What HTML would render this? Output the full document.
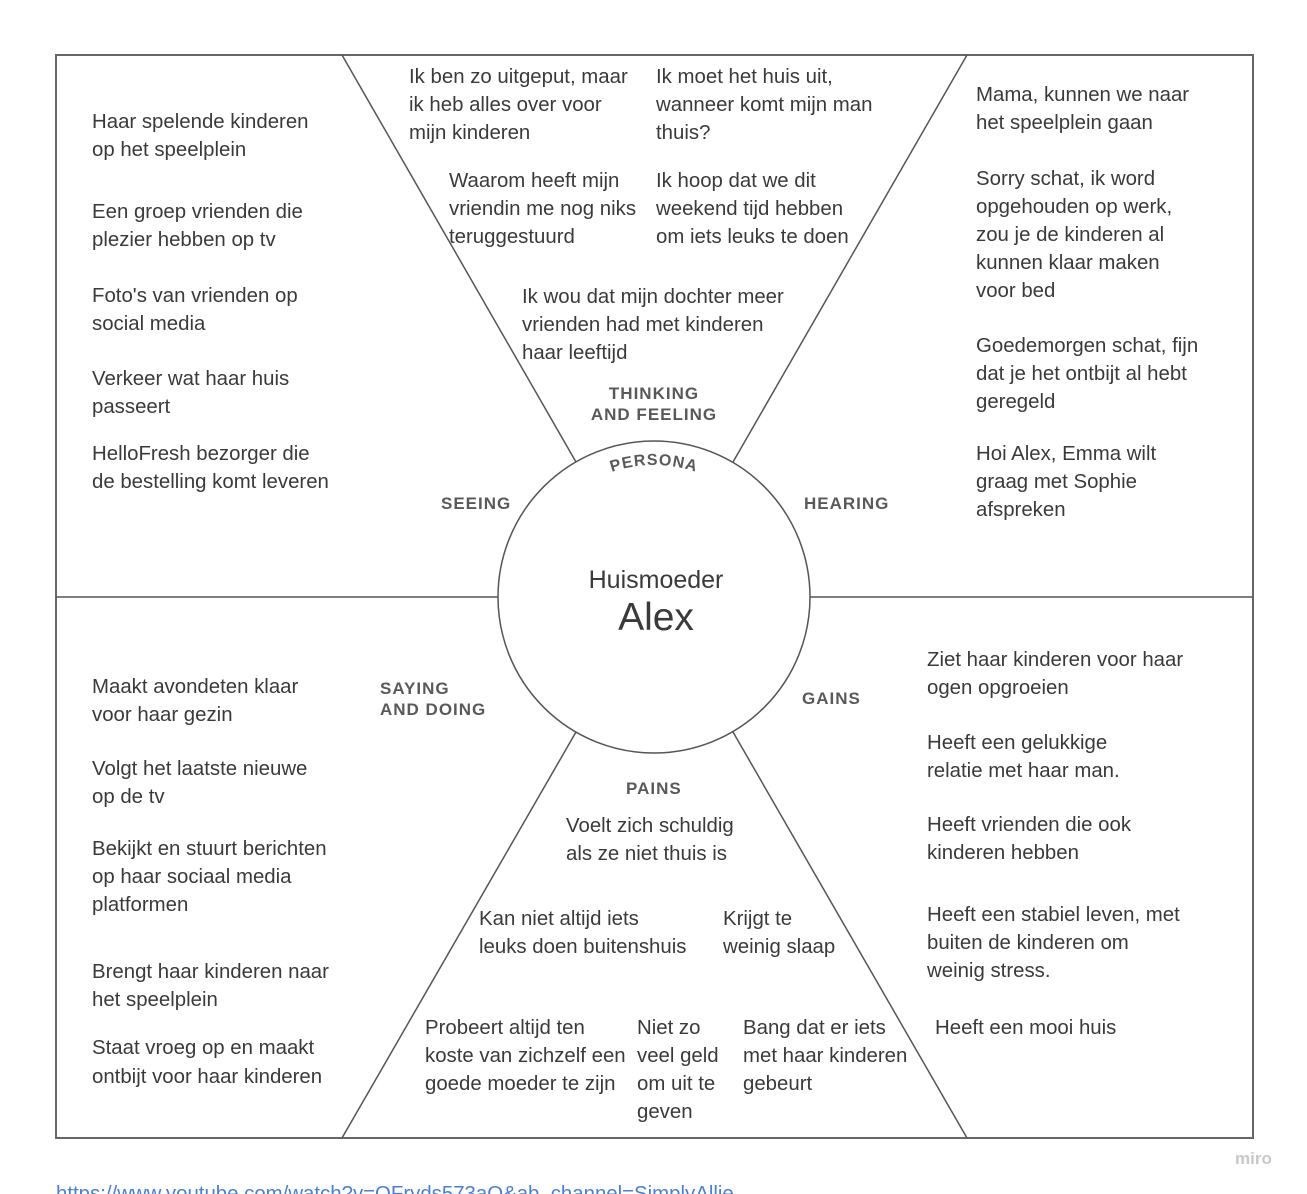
<!DOCTYPE html>
<html><head><meta charset="utf-8"><style>
html,body{margin:0;padding:0;background:#fff;width:1307px;height:1194px;overflow:hidden}
svg{display:block}
text{font-family:"Liberation Sans",sans-serif;fill:#3a3a3a}
.t{font-size:20.4px}
.h{font-size:17px;letter-spacing:1px;fill:#595959;font-weight:bold}
</style></head><body>
<svg width="1307" height="1194" xmlns="http://www.w3.org/2000/svg">
<rect x="56" y="55" width="1197" height="1083" fill="#fff" stroke="#666" stroke-width="2"/>
<g stroke="#555" stroke-width="1.5" fill="none">
<line x1="342" y1="55" x2="576" y2="462"/>
<line x1="967" y1="55" x2="733" y2="462"/>
<line x1="576" y1="732" x2="342" y2="1138"/>
<line x1="733" y1="732" x2="967" y2="1138"/>
<line x1="56" y1="597" x2="498" y2="597"/>
<line x1="810" y1="597" x2="1253" y2="597"/>
<circle cx="654" cy="597" r="156"/>
</g>
<defs><path id="arc" d="M 522 597 A 132 132 0 0 1 786 597"/></defs>
<text class="h" style="font-size:16px"><textPath href="#arc" startOffset="50%" text-anchor="middle">PERSONA</textPath></text>
<text x="656" y="588" text-anchor="middle" style="font-size:25px">Huismoeder</text>
<text x="656" y="630" text-anchor="middle" style="font-size:39px">Alex</text>
<text class="h" x="654" y="399" text-anchor="middle">THINKING</text>
<text class="h" x="654" y="420" text-anchor="middle">AND FEELING</text>
<text class="h" x="441" y="509">SEEING</text>
<text class="h" x="804" y="509">HEARING</text>
<text class="h" x="380" y="694">SAYING</text>
<text class="h" x="380" y="715">AND DOING</text>
<text class="h" x="802" y="704">GAINS</text>
<text class="h" x="626" y="794">PAINS</text>
<g class="t">
<text x="92" y="128">Haar spelende kinderen</text><text x="92" y="156">op het speelplein</text>
<text x="92" y="218">Een groep vrienden die</text><text x="92" y="246">plezier hebben op tv</text>
<text x="92" y="302">Foto's van vrienden op</text><text x="92" y="330">social media</text>
<text x="92" y="385">Verkeer wat haar huis</text><text x="92" y="413">passeert</text>
<text x="92" y="460">HelloFresh bezorger die</text><text x="92" y="488">de bestelling komt leveren</text>

<text x="409" y="83">Ik ben zo uitgeput, maar</text><text x="409" y="111">ik heb alles over voor</text><text x="409" y="139">mijn kinderen</text>
<text x="656" y="83">Ik moet het huis uit,</text><text x="656" y="111">wanneer komt mijn man</text><text x="656" y="139">thuis?</text>
<text x="449" y="187">Waarom heeft mijn</text><text x="449" y="215">vriendin me nog niks</text><text x="449" y="243">teruggestuurd</text>
<text x="656" y="187">Ik hoop dat we dit</text><text x="656" y="215">weekend tijd hebben</text><text x="656" y="243">om iets leuks te doen</text>
<text x="522" y="303">Ik wou dat mijn dochter meer</text><text x="522" y="331">vrienden had met kinderen</text><text x="522" y="359">haar leeftijd</text>

<text x="976" y="101">Mama, kunnen we naar</text><text x="976" y="129">het speelplein gaan</text>
<text x="976" y="185">Sorry schat, ik word</text><text x="976" y="213">opgehouden op werk,</text><text x="976" y="241">zou je de kinderen al</text><text x="976" y="269">kunnen klaar maken</text><text x="976" y="297">voor bed</text>
<text x="976" y="352">Goedemorgen schat, fijn</text><text x="976" y="380">dat je het ontbijt al hebt</text><text x="976" y="408">geregeld</text>
<text x="976" y="460">Hoi Alex, Emma wilt</text><text x="976" y="488">graag met Sophie</text><text x="976" y="516">afspreken</text>

<text x="92" y="693">Maakt avondeten klaar</text><text x="92" y="721">voor haar gezin</text>
<text x="92" y="775">Volgt het laatste nieuwe</text><text x="92" y="803">op de tv</text>
<text x="92" y="855">Bekijkt en stuurt berichten</text><text x="92" y="883">op haar sociaal media</text><text x="92" y="911">platformen</text>
<text x="92" y="978">Brengt haar kinderen naar</text><text x="92" y="1006">het speelplein</text>
<text x="92" y="1054">Staat vroeg op en maakt</text><text x="92" y="1083">ontbijt voor haar kinderen</text>

<text x="566" y="832">Voelt zich schuldig</text><text x="566" y="860">als ze niet thuis is</text>
<text x="479" y="925">Kan niet altijd iets</text><text x="479" y="953">leuks doen buitenshuis</text>
<text x="723" y="925">Krijgt te</text><text x="723" y="953">weinig slaap</text>
<text x="425" y="1034">Probeert altijd ten</text><text x="425" y="1062">koste van zichzelf een</text><text x="425" y="1090">goede moeder te zijn</text>
<text x="637" y="1034">Niet zo</text><text x="637" y="1062">veel geld</text><text x="637" y="1090">om uit te</text><text x="637" y="1118">geven</text>
<text x="743" y="1034">Bang dat er iets</text><text x="743" y="1062">met haar kinderen</text><text x="743" y="1090">gebeurt</text>

<text x="927" y="666">Ziet haar kinderen voor haar</text><text x="927" y="694">ogen opgroeien</text>
<text x="927" y="749">Heeft een gelukkige</text><text x="927" y="777">relatie met haar man.</text>
<text x="927" y="831">Heeft vrienden die ook</text><text x="927" y="859">kinderen hebben</text>
<text x="927" y="921">Heeft een stabiel leven, met</text><text x="927" y="949">buiten de kinderen om</text><text x="927" y="977">weinig stress.</text>
<text x="935" y="1034">Heeft een mooi huis</text>
</g>
<text x="1235" y="1164" style="font-size:17px;fill:#c8c8c8;font-weight:bold">miro</text>
<text x="56" y="1200" style="font-size:20.4px;fill:#4a7fd4">https://www.youtube.com/watch?v=QFryds573aQ&amp;ab_channel=SimplyAllie</text>
</svg>
</body></html>
